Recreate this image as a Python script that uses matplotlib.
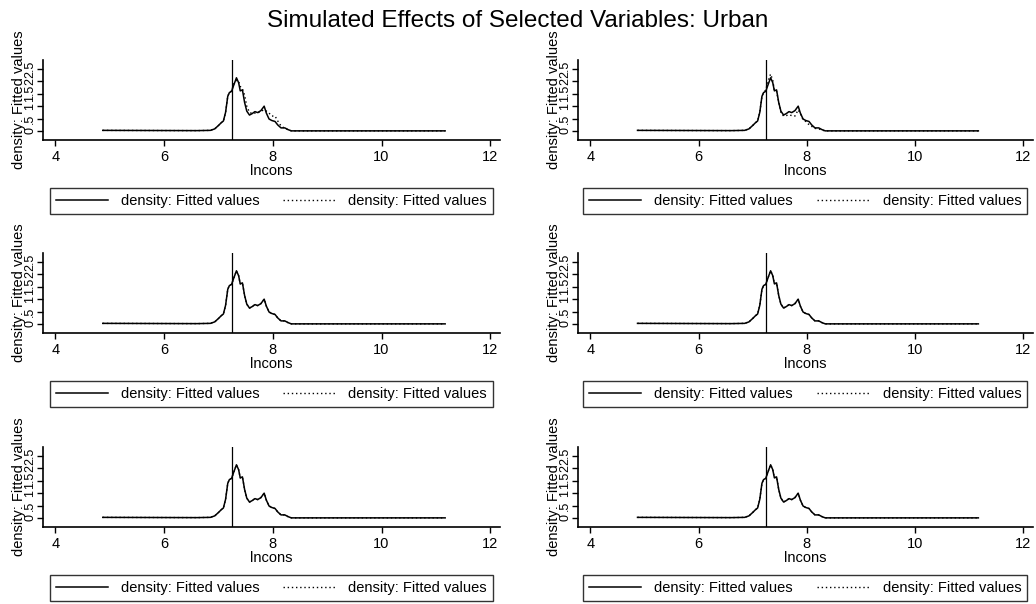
import matplotlib
matplotlib.use('Agg')
import matplotlib.pyplot as plt

plt.rcParams['font.family'] = ['Liberation Sans', 'DejaVu Sans']

# lncons grid and density values
lncons = [4.87, 6.60, 6.85, 6.93, 7.00, 7.05, 7.09, 7.13, 7.17, 7.20, 7.24, 7.28,
          7.33, 7.37, 7.40, 7.44, 7.48, 7.52, 7.57, 7.62, 7.67, 7.72, 7.78, 7.84,
          7.88, 7.93, 7.98, 8.04, 8.09, 8.15, 8.22, 8.28, 8.34, 11.17]
dens_solid = [0.02, 0.01, 0.02, 0.08, 0.22, 0.33, 0.40, 0.75, 1.40, 1.55, 1.60, 1.85,
              2.15, 1.95, 1.62, 1.66, 1.15, 0.80, 0.64, 0.70, 0.78, 0.74, 0.82, 1.00,
              0.72, 0.48, 0.42, 0.38, 0.24, 0.12, 0.12, 0.05, 0.00, 0.00]
dens_dot_p1 = [0.02, 0.01, 0.02, 0.08, 0.22, 0.33, 0.40, 0.75, 1.40, 1.55, 1.62, 1.90,
               2.05, 2.00, 1.80, 1.70, 1.45, 1.00, 0.75, 0.70, 0.72, 0.72, 0.80, 0.85,
               0.80, 0.72, 0.60, 0.60, 0.40, 0.20, 0.10, 0.05, 0.00, 0.00]
dens_dot_p2 = [0.02, 0.01, 0.02, 0.08, 0.22, 0.33, 0.40, 0.75, 1.40, 1.55, 1.65, 2.00,
               2.30, 2.05, 1.62, 1.60, 1.15, 0.75, 0.60, 0.62, 0.65, 0.62, 0.60, 0.85,
               0.70, 0.45, 0.38, 0.25, 0.18, 0.10, 0.08, 0.03, 0.00, 0.00]
dotted_series = [dens_dot_p1, dens_dot_p2, dens_solid, dens_solid, dens_solid, dens_solid]
xline_at = 7.25

xticks = [4, 6, 8, 10, 12]
yticks = [0, 0.5, 1, 1.5, 2, 2.5]
yticklabels = ['0', '.5', '1', '1.5', '2', '2.5']

W, H = 1036, 604
fig = plt.figure(figsize=(W / 100, H / 100), dpi=100)
fig.text(0.5, 1 - 21 / H, 'Simulated Effects of Selected Variables: Urban',
         ha='center', va='center', fontsize=17.5)

row_bottoms = [140, 333, 527]
cols = [(43, 457, 0.0153, 0.969), (578, 455, 0.011, 0.976)]

k = 0
for rb in row_bottoms:
    for (left, width, lx, lw) in cols:
        ax = fig.add_axes([left / W, (H - rb) / H, width / W, 80 / H])
        ax.plot(lncons, dens_solid, color='black', lw=1.1, label='density: Fitted values')
        ax.plot(lncons, dotted_series[k], color='black', lw=1.0, ls=(0, (1, 2)),
                label='density: Fitted values')
        ax.axvline(xline_at, color='black', lw=0.9)
        ax.set_xlim(3.77, 12.18)
        ax.set_ylim(-0.37, 2.87)
        ax.set_xticks(xticks)
        ax.set_yticks(yticks)
        ax.set_yticklabels(yticklabels, rotation=90, va='center', fontsize=9)
        ax.tick_params(axis='x', length=4, width=1, pad=3, labelsize=10.5)
        ax.tick_params(axis='y', length=4.5, width=1, pad=0.5)
        for s in ['top', 'right']:
            ax.spines[s].set_visible(False)
        for s in ['left', 'bottom']:
            ax.spines[s].set_linewidth(1.2)
        ax.set_xlabel('lncons', fontsize=10.5, labelpad=0)
        ax.set_ylabel('density: Fitted values', fontsize=10.5)
        ax.yaxis.set_label_coords(-17 / width, 0.5)
        leg = ax.legend(loc='upper left', bbox_to_anchor=(lx, -0.6, lw, 0), mode='expand',
                        ncol=2, fontsize=10.5, frameon=True, fancybox=False,
                        handlelength=3.6, handletextpad=0.9, borderpad=0.4,
                        borderaxespad=0)
        leg.get_frame().set_edgecolor('black')
        leg.get_frame().set_linewidth(1.0)
        k += 1

fig.savefig('out.png', dpi=100)
